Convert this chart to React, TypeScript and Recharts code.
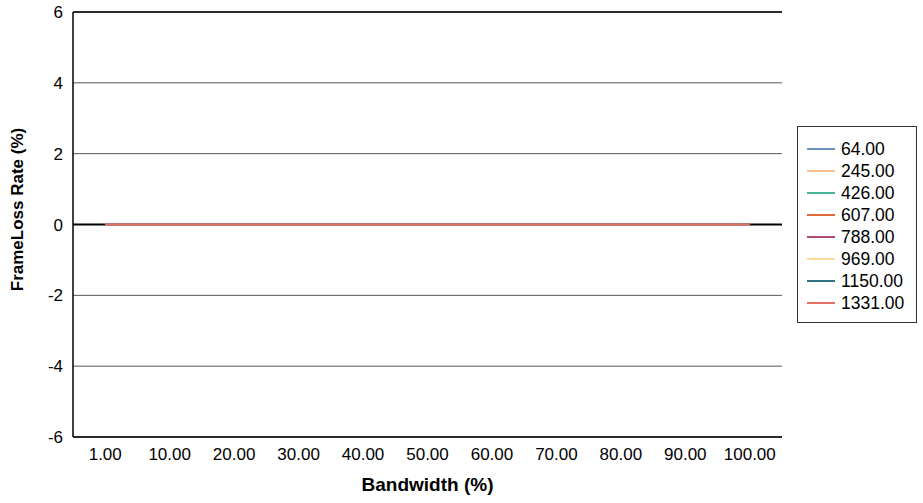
import React from 'react';
import { LineChart, Line, XAxis, YAxis, CartesianGrid, ReferenceLine, Label } from 'recharts';

const bandwidths = ['1.00', '10.00', '20.00', '30.00', '40.00', '50.00', '60.00', '70.00', '80.00', '90.00', '100.00'];
const frameSizes = ['64.00', '245.00', '426.00', '607.00', '788.00', '969.00', '1150.00', '1331.00'];
const seriesColors = ['#6f93c0', '#f7bf92', '#46b394', '#e0693b', '#b04a74', '#fcd996', '#2f7282', '#e46f62'];
// frame loss per frame size, one value per bandwidth step
const lossValues = [
    [0, 0, 0, 0, 0, 0, 0, 0, 0, 0, 0],
    [0, 0, 0, 0, 0, 0, 0, 0, 0, 0, 0],
    [0, 0, 0, 0, 0, 0, 0, 0, 0, 0, 0],
    [0, 0, 0, 0, 0, 0, 0, 0, 0, 0, 0],
    [0, 0, 0, 0, 0, 0, 0, 0, 0, 0, 0],
    [0, 0, 0, 0, 0, 0, 0, 0, 0, 0, 0],
    [0, 0, 0, 0, 0, 0, 0, 0, 0, 0, 0],
    [0, 0, 0, 0, 0, 0, 0, 0, 0, 0, 0],
];
const yTicks = [-6, -4, -2, 0, 2, 4, 6];

const data = bandwidths.map((bw, i) => {
    const row: Record<string, string | number> = { bw };
    frameSizes.forEach((fs, s) => {
        row[fs] = lossValues[s][i];
    });
    return row;
});

const font = 'Liberation Sans, Arial, sans-serif';

const LegendBox = () => (
    <div
        style={{
            position: 'absolute',
            left: 797,
            top: 126,
            border: '1px solid #333',
            background: '#fff',
            width: 120,
            height: 197,
            boxSizing: 'border-box',
            paddingTop: 11,
            fontFamily: font,
            fontSize: 17.5,
            color: '#000',
        }}
    >
        {frameSizes.map((fs, s) => (
            <div key={fs} style={{ display: 'flex', alignItems: 'center', height: 22 }}>
                <div style={{ marginLeft: 9, width: 28, height: 1.5, background: seriesColors[s] }} />
                <span style={{ marginLeft: 6, lineHeight: '22px' }}>{fs}</span>
            </div>
        ))}
    </div>
);

// y axis title sits a bit above the plot's middle in the original
const YTitle = ({ viewBox }: any) => {
    const x = viewBox.x + 17;
    const y = viewBox.y + viewBox.height / 2 - 15;
    return (
        <text
            x={x}
            y={y}
            transform={`rotate(-90, ${x}, ${y})`}
            textAnchor="middle"
            dominantBaseline="central"
            fill="#000"
            fontSize={17}
            fontWeight="bold"
            fontFamily={font}
        >
            FrameLoss Rate (%)
        </text>
    );
};

const App: React.FC = () => {
    return (
        <div style={{ position: 'absolute', left: 0, top: 0, width: 923, height: 503, background: '#fff' }}>
            <LineChart width={923} height={503} data={data} margin={{ top: 12, right: 141, left: 0, bottom: 0 }}>
                <CartesianGrid vertical={false} stroke="#555" strokeWidth={1} />
                <XAxis
                    dataKey="bw"
                    scale="band"
                    height={66}
                    stroke="#000"
                    strokeWidth={1.5}
                    tickLine={false}
                    tickSize={0}
                    tickMargin={11}
                    tick={{ fill: '#000', fontSize: 17, fontFamily: font }}
                    interval={0}
                    label={{
                        value: 'Bandwidth (%)',
                        position: 'insideBottom',
                        offset: 12,
                        fill: '#000',
                        fontSize: 19,
                        fontWeight: 'bold',
                        fontFamily: font,
                    }}
                />
                <YAxis
                    width={73}
                    domain={[-6, 6]}
                    ticks={yTicks}
                    stroke="#000"
                    strokeWidth={1.5}
                    tickLine={false}
                    tickSize={0}
                    tickMargin={10}
                    tick={{ fill: '#000', fontSize: 17, fontFamily: font }}
                >
                    <Label content={<YTitle />} />
                </YAxis>
                <YAxis yAxisId="right" orientation="right" width={0} tick={false} tickLine={false} stroke="#777" domain={[-6, 6]} />
                <ReferenceLine y={0} stroke="#000" strokeWidth={2} />
                <ReferenceLine y={6} stroke="#000" strokeWidth={1.5} />
                {frameSizes.map((fs, s) => (
                    <Line
                        key={fs}
                        type="linear"
                        dataKey={fs}
                        stroke={seriesColors[s]}
                        strokeWidth={2}
                        dot={false}
                        isAnimationActive={false}
                    />
                ))}
            </LineChart>
            <LegendBox />
        </div>
    );
};

export default App;
